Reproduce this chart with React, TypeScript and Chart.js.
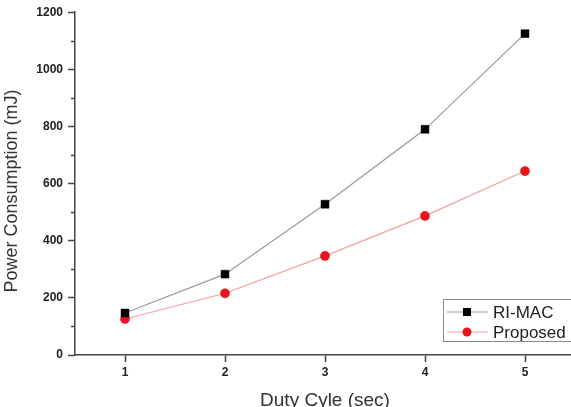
import React, { useEffect, useRef } from "react";
import { Chart, registerables } from "chart.js";

Chart.register(...registerables);

// Duty cycle settings (seconds) on the horizontal axis
const dutyCycles = ["1", "2", "3", "4", "5"];
// Power consumption in mJ for each protocol
const riMac = [147, 283, 528, 790, 1125];
const proposed = [126, 216, 347, 487, 644];
// Unlabelled minor ticks on the power axis
const yMinorTicks = [100, 300, 500, 700, 900, 1100];

const FONT = "'Liberation Sans', Arial, Helvetica, sans-serif";
const AXIS_COLOR = "#444";

// Minor ticks, rotated y-axis title and the boxed legend in the lower right
const decorations = {
  id: "decorations",
  afterDraw(chart: any) {
    const { ctx, scales } = chart;
    const y = scales.y;

    ctx.save();
    ctx.strokeStyle = AXIS_COLOR;
    ctx.lineWidth = 1.5;
    for (const v of yMinorTicks) {
      const py = Math.round(y.getPixelForValue(v)) + 0.5;
      ctx.beginPath();
      ctx.moveTo(y.right - 4, py);
      ctx.lineTo(y.right, py);
      ctx.stroke();
    }
    ctx.restore();

    ctx.save();
    ctx.translate(12, 191);
    ctx.rotate(-Math.PI / 2);
    ctx.font = `18px ${FONT}`;
    ctx.fillStyle = "#333";
    ctx.textAlign = "center";
    ctx.textBaseline = "middle";
    ctx.fillText("Power Consumption (mJ)", 0, 0);
    ctx.restore();

    // legend
    const boxX = 443.5;
    const boxY = 299.5;
    ctx.save();
    ctx.strokeStyle = "#8a8a8a";
    ctx.lineWidth = 1;
    ctx.strokeRect(boxX, boxY, 160, 42);
    chart.data.datasets.forEach((ds: any, i: number) => {
      const cy = 312 + i * 20;
      ctx.strokeStyle = ds.borderColor;
      ctx.lineWidth = 1.2;
      ctx.beginPath();
      ctx.moveTo(447, cy);
      ctx.lineTo(488, cy);
      ctx.stroke();
      ctx.fillStyle = ds.pointBackgroundColor;
      if (ds.pointStyle === "rect") {
        ctx.fillRect(467 - 4, cy - 4, 8, 8);
      } else {
        ctx.beginPath();
        ctx.arc(467, cy, 4.5, 0, Math.PI * 2);
        ctx.fill();
      }
      ctx.font = `17px ${FONT}`;
      ctx.fillStyle = "#222";
      ctx.textAlign = "left";
      ctx.textBaseline = "middle";
      ctx.fillText(ds.label, 493, cy + 1);
    });
    ctx.restore();
  },
};

export default function App() {
  const canvasRef = useRef<HTMLCanvasElement | null>(null);

  useEffect(() => {
    const canvas = canvasRef.current;
    if (!canvas) return;
    const chart = new Chart(canvas, {
      type: "line",
      data: {
        labels: dutyCycles,
        datasets: [
          {
            label: "RI-MAC",
            data: riMac,
            borderColor: "#999999",
            borderWidth: 1.2,
            pointStyle: "rect",
            pointRadius: 5.6,
            pointBackgroundColor: "#000000",
            pointBorderColor: "#000000",
            pointBorderWidth: 0.5,
            tension: 0,
          },
          {
            label: "Proposed",
            data: proposed,
            borderColor: "#f2a0a0",
            borderWidth: 1.2,
            pointStyle: "circle",
            pointRadius: 4.6,
            pointBackgroundColor: "#e8141c",
            pointBorderColor: "#e8141c",
            pointBorderWidth: 0.5,
            tension: 0,
          },
        ],
      },
      options: {
        responsive: false,
        animation: false,
        devicePixelRatio: 1,
        layout: { padding: { top: 12, right: 15, left: 0, bottom: 0 } },
        plugins: {
          legend: { display: false },
          tooltip: { enabled: false },
        },
        scales: {
          x: {
            type: "category",
            offset: true,
            afterFit: (s: any) => {
              s.height = 65;
            },
            grid: {
              drawOnChartArea: false,
              drawTicks: true,
              tickLength: 7,
              tickColor: AXIS_COLOR,
              tickWidth: 1.5,
              offset: false,
            },
            border: { display: true, color: AXIS_COLOR, width: 1.5 },
            ticks: {
              font: { family: FONT, size: 12, weight: "bold" },
              color: "#222",
              padding: 3,
            },
            title: {
              display: true,
              text: "Duty Cyle (sec)",
              font: { family: FONT, size: 19 },
              color: "#333",
              padding: { top: 0, bottom: 8 },
            },
          },
          y: {
            min: 0,
            max: 1200,
            afterFit: (s: any) => {
              s.width = 75;
            },
            grid: {
              drawOnChartArea: false,
              drawTicks: true,
              tickLength: 7,
              tickColor: AXIS_COLOR,
              tickWidth: 1.5,
            },
            border: { display: true, color: AXIS_COLOR, width: 1.5 },
            ticks: {
              stepSize: 200,
              callback: (v: any) => String(v),
              font: { family: FONT, size: 12, weight: "bold" },
              color: "#222",
              padding: 5,
            },
          },
        },
      },
      plugins: [decorations],
    });
    return () => chart.destroy();
  }, []);

  return (
    <div
      style={{
        position: "absolute",
        left: 0,
        top: 0,
        width: 571,
        height: 407,
        overflow: "hidden",
        background: "#fff",
      }}
    >
      <canvas ref={canvasRef} width={590} height={420} style={{ width: 590, height: 420 }} />
    </div>
  );
}
